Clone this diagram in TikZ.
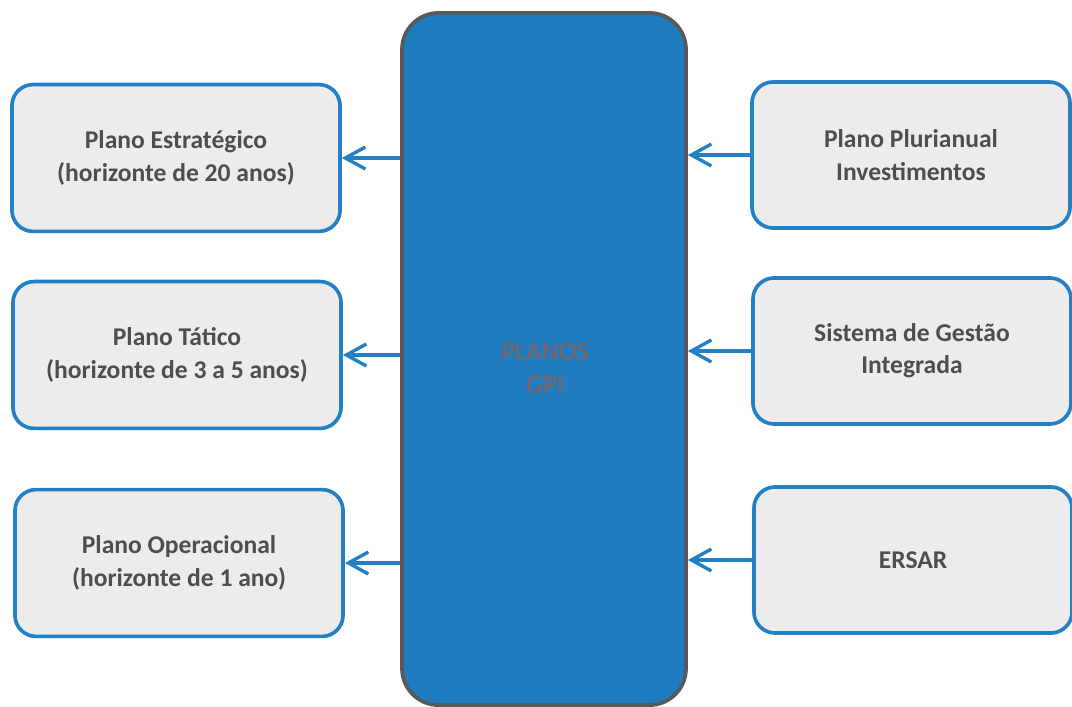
\documentclass[tikz,border=0pt]{standalone}
\usepackage{fontspec}
\setmainfont{Carlito}
\usetikzlibrary{positioning,arrows.meta}

\definecolor{gpiblue}{RGB}{31,124,190}
\definecolor{boxline}{RGB}{36,128,196}
\definecolor{boxfill}{RGB}{236,236,236}
\definecolor{txtgray}{RGB}{78,78,78}
\definecolor{gpitext}{RGB}{140,96,86}

\begin{document}
\begin{tikzpicture}[
  x=0.025cm, y=-0.025cm,
  plano/.style  = {rectangle, rounded corners=15pt, draw=boxline, fill=boxfill,
                   line width=2.6pt, align=center, text=txtgray,
                   font=\fontsize{18.2}{23}\selectfont\bfseries,
                   minimum width=8.2cm, minimum height=3.67cm},
  planoR/.style = {plano, minimum width=7.95cm, minimum height=3.65cm},
  nucleo/.style = {rectangle, rounded corners=26pt, draw=black!65, fill=gpiblue,
                   line width=2.6pt, align=center, text=gpitext,
                   font=\fontsize{19}{23.5}\selectfont,
                   minimum width=7.1cm, minimum height=17.3cm},
  arrow/.style  = {-{Straight Barb[length=5mm,width=5.5mm,line width=2.4pt]},
                   line width=2.6pt, draw=boxline}
]
\useasboundingbox (0,0) rectangle (1072,707);

\node[nucleo] (gpi) at (544,359) {};
\node[text=gpitext, align=center, font=\fontsize{19}{23.5}\selectfont]
  (gpitxt) at (545,368) {PLANOS\\GPI};

\node[plano]  (estr) at (176,158) {Plano Estratégico\\(horizonte de 20 anos)};
\node[plano]  (tat)  at (177,355) {Plano Tático\\(horizonte de 3 a 5 anos)};
\node[plano]  (oper) at (179,563) {Plano Operacional\\(horizonte de 1 ano)};

\node[planoR] (ppi)  at (911,155) {Plano Plurianual\\Investimentos};
\node[planoR] (sgi)  at (912,351) {Sistema de Gestão\\Integrada};
\node[planoR] (ersar) at (913,560) {ERSAR};

\draw[arrow] (gpi.west |- estr.east) -- (estr.east);
\draw[arrow] (gpi.west |- tat.east)  -- (tat.east);
\draw[arrow] (gpi.west |- oper.east) -- (oper.east);

\draw[arrow] (ppi.west)   -- (gpi.east |- ppi.west);
\draw[arrow] (sgi.west)   -- (gpi.east |- sgi.west);
\draw[arrow] (ersar.west) -- (gpi.east |- ersar.west);

\end{tikzpicture}
\end{document}
